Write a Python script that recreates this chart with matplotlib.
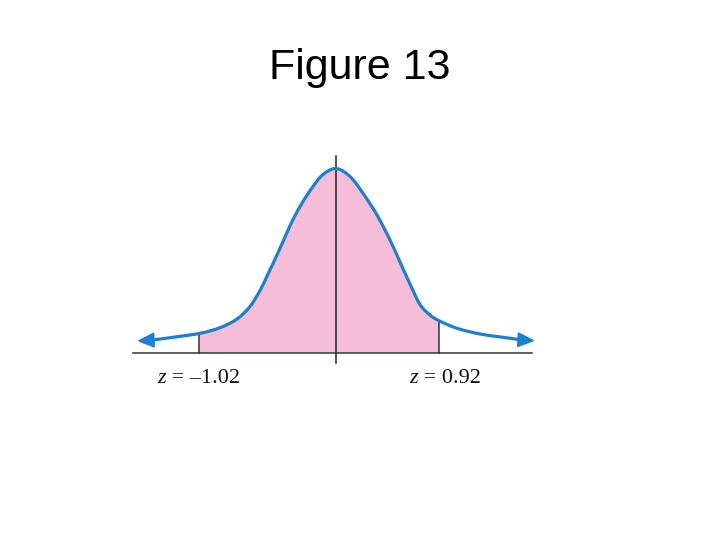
"""
Figure 13: normal curve with the area between z = -1.02 and z = 0.92 shaded
"""
import numpy as np
import matplotlib.pyplot as plt
from matplotlib.path import Path
from matplotlib.patches import PathPatch, Rectangle

# curve: horizontal offset from the mean line, height above baseline (px)
curve_x = [-199, -186, -163, -136, -116, -99, -86, -76, -68, -59, -51, -43, -33, -23, -13,
           0, 14, 27, 41, 54, 64, 74, 84, 94, 103, 121, 144, 167, 187, 199]
curve_y = [11.5, 12.2, 15.2, 19.2, 24.8, 33.5, 46.0, 62.0, 78.5, 97.5, 115.5, 133.0, 151.0, 166.0, 178.0,
           184, 176.0, 159.2, 137.5, 112.5, 90.5, 68.5, 48.0, 37.5, 31.8, 24.2, 18.5, 15.2, 12.5, 11.8]

# shaded region edges as drawn, and their labels
bound_x = [-137, 103]
bound_labels = ['\u2013' + '1.02', '0.92']

blue = '#1b80d2'
pink = '#f6bdd8'
dark = '#333333'


def smooth_path(xs, ys):
    # Catmull-Rom through the read points, written as cubic Bezier segments
    pts = np.column_stack([xs, ys])
    verts = [pts[0]]
    codes = [Path.MOVETO]
    n = len(pts)
    for i in range(n - 1):
        p0 = pts[max(i - 1, 0)]
        p1, p2 = pts[i], pts[i + 1]
        p3 = pts[min(i + 2, n - 1)]
        verts += [p1 + (p2 - p0) / 6, p2 - (p3 - p1) / 6, p2]
        codes += [Path.CURVE4] * 3
    return verts, codes


fig = plt.figure(figsize=(7.2, 5.4), dpi=100)
ax = fig.add_axes([0, 0, 1, 1])
ax.set_xlim(-336, 384)
ax.set_ylim(-187.5, 352.5)
ax.axis('off')

cx = np.array(curve_x, dtype=float)
cy = np.array(curve_y, dtype=float)

verts, codes = smooth_path(cx, cy)

# shaded area: a rectangle clipped to the region under the curve
area = Path(verts + [(cx[-1], 0), (cx[0], 0), verts[0]],
            codes + [Path.LINETO, Path.LINETO, Path.CLOSEPOLY])
lo, hi = bound_x
shade = Rectangle((lo, 0), hi - lo, 200, color=pink, lw=0, zorder=1)
ax.add_patch(shade)
shade.set_clip_path(area, ax.transData)

# baseline, mean line, bound lines
ax.plot([-203, 196], [0, 0], color=dark, lw=1.1, zorder=2)
ax.plot([0, 0], [-10.5, 196.5], color='#222222', lw=1.1, zorder=3)
for b in bound_x:
    ax.plot([b, b], [0, np.interp(b, cx, cy)], color=dark, lw=1.1, zorder=2)

# the curve, then arrow heads on both tails
vin, cin = smooth_path(cx[1:-1], cy[1:-1])
ax.add_patch(PathPatch(Path(vin, cin), fill=False, edgecolor=blue, lw=2.3,
                       capstyle='round', joinstyle='round', zorder=4))
for i0, i1 in [(1, 0), (-2, -1)]:
    ax.annotate('', xy=(cx[i1], cy[i1]), xytext=(cx[i0], cy[i0]),
                arrowprops=dict(arrowstyle='-|>,head_length=1.0,head_width=0.45',
                                color=blue, lw=1.6, mutation_scale=10,
                                shrinkA=0, shrinkB=0), zorder=4)

# labels under the bounds: italic z, then the value
label_x = [-170, 82]
for lx, lab in zip(label_x, bound_labels):
    ax.text(lx, -26, 'z', ha='right', va='center', fontsize=16,
            family='Liberation Serif', style='italic', color='#111111')
    ax.text(lx, -26, ' = ' + lab, ha='left', va='center', fontsize=16,
            family='Liberation Serif', color='#111111')

fig.text(0.5, 1 - 68 / 540, 'Figure 13', ha='center', va='center',
         fontsize=31, family='Liberation Sans', color='black')

plt.savefig('out.png', dpi=100)
